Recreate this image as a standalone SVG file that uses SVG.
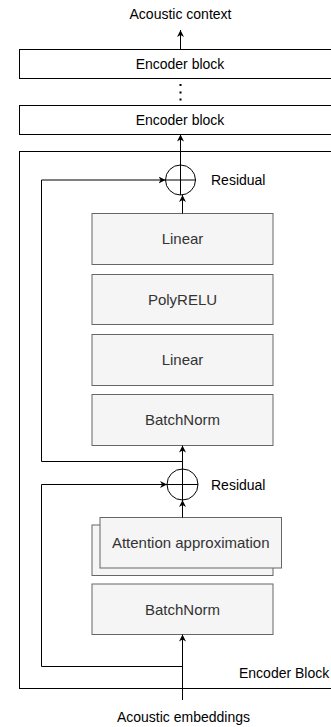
<svg xmlns="http://www.w3.org/2000/svg" width="331" height="727" viewBox="0 0 331 727">
<defs>
<marker id="arr" viewBox="0 0 10 10" refX="10" refY="5" markerWidth="7" markerHeight="7" markerUnits="userSpaceOnUse" orient="auto">
<path d="M0,0 L10,5 L0,10 L3,5 z" fill="#000"/>
</marker>
<style>
.t{font-family:"Liberation Sans",Arial,sans-serif;font-size:14px;fill:#000}
.bt{font-family:"Liberation Sans",Arial,sans-serif;font-size:15px;fill:#333;text-anchor:middle}
.box{fill:#f5f5f5;stroke:#666;stroke-width:1}
.wb{fill:#fff;stroke:#000;stroke-width:1}
.ln{fill:none;stroke:#000;stroke-width:1}
.ar{fill:none;stroke:#000;stroke-width:1;marker-end:url(#arr)}
</style>
</defs>
<g id="outer-block">
<rect class="wb" x="19.5" y="151.5" width="340" height="537"/>
<text class="t" x="239" y="677.5">Encoder Block</text>
</g>
<g id="label-context"><text class="t" x="180.5" y="19" text-anchor="middle">Acoustic context</text></g>
<g id="encoder-1">
<rect class="wb" x="19.5" y="49.5" width="340" height="29"/>
<text class="t" x="180" y="69" text-anchor="middle">Encoder block</text>
</g>
<g id="dots">
<rect x="179.5" y="84" width="2" height="2" fill="#000"/>
<rect x="179.5" y="91.5" width="2" height="2" fill="#000"/>
<rect x="179.5" y="98.5" width="2" height="2" fill="#000"/>
</g>
<g id="encoder-2">
<rect class="wb" x="19.5" y="105.5" width="340" height="29"/>
<text class="t" x="180" y="125" text-anchor="middle">Encoder block</text>
</g>
<g id="residual-1">
<circle class="ln" cx="180.5" cy="180" r="15"/>
<line class="ln" x1="165.5" y1="180" x2="195.5" y2="180"/>
<line class="ln" x1="180.5" y1="165" x2="180.5" y2="195"/>
<text class="t" x="211" y="185">Residual</text>
</g>
<g id="linear-1"><rect class="box" x="92" y="213.5" width="181" height="51"/><text class="bt" x="182.5" y="244">Linear</text></g>
<g id="polyrelu"><rect class="box" x="92" y="274.5" width="181" height="50"/><text class="bt" x="182.5" y="304.5">PolyRELU</text></g>
<g id="linear-2"><rect class="box" x="92" y="334.5" width="181" height="51"/><text class="bt" x="182.5" y="365">Linear</text></g>
<g id="batchnorm-1"><rect class="box" x="92" y="394.5" width="181" height="51"/><text class="bt" x="182.5" y="425">BatchNorm</text></g>
<g id="residual-2">
<circle class="ln" cx="182.5" cy="484.5" r="15.5"/>
<line class="ln" x1="167" y1="484.5" x2="198" y2="484.5"/>
<line class="ln" x1="182.5" y1="469" x2="182.5" y2="500"/>
<text class="t" x="211" y="489.5">Residual</text>
</g>
<g id="attention">
<rect class="box" x="92" y="525" width="181" height="50.5"/>
<rect class="box" x="100" y="517.5" width="181.5" height="50.5"/>
<text class="bt" x="190.7" y="548">Attention approximation</text>
</g>
<g id="batchnorm-2"><rect class="box" x="92" y="584" width="181" height="50.5"/><text class="bt" x="182.5" y="614.5">BatchNorm</text></g>
<g id="label-embeddings"><text class="t" x="183.5" y="721.5" text-anchor="middle">Acoustic embeddings</text></g>
<g id="connectors">
<line class="ar" x1="180.5" y1="49.5" x2="180.5" y2="30"/>
<line class="ar" x1="180.5" y1="165" x2="180.5" y2="134.5"/>
<line class="ar" x1="182.5" y1="213.5" x2="182.5" y2="195"/>
<polyline class="ar" points="182.5,461.5 41.5,461.5 41.5,180 165.5,180"/>
<line class="ar" x1="182.5" y1="469" x2="182.5" y2="445.5"/>
<line class="ar" x1="182.5" y1="517.5" x2="182.5" y2="500"/>
<polyline class="ar" points="182.5,666.5 41.5,666.5 41.5,484.5 167,484.5"/>
<line class="ar" x1="182.5" y1="700" x2="182.5" y2="634.5"/>
</g>
</svg>
